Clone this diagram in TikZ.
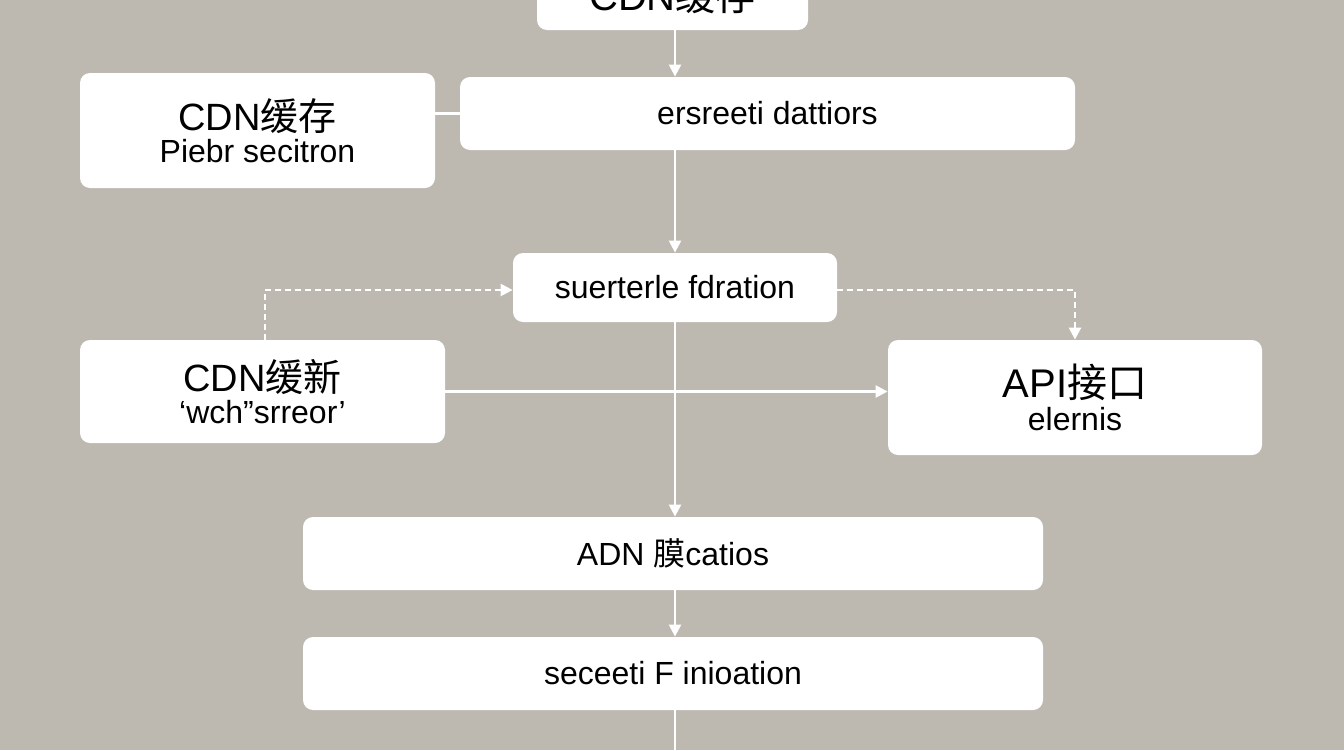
\documentclass[tikz,border=0pt]{standalone}
\usepackage{fontspec}
\setmainfont{Liberation Sans}
\newfontfamily\cjk{Noto Sans CJK SC}
\usetikzlibrary{arrows.meta}
\definecolor{bg}{HTML}{BDB9B1}
\tikzset{
  box/.style={draw=none, fill=white, rounded corners=5pt, align=center, inner sep=0pt},
  link/.style={white, line width=1.2pt, -{Triangle[width=6pt,length=6pt]}},
  dlink/.style={white, line width=1.2pt, dashed, dash pattern=on 3pt off 2pt, -{Triangle[width=6pt,length=6pt]}}
}
\begin{document}
\begin{tikzpicture}[x=0.5pt,y=-0.5pt]

% background
\fill[bg] (0,0) rectangle (1344,750);
\useasboundingbox (0,0) rectangle (1344,750);
\begin{scope}
\clip (0,0) rectangle (1344,750);

% boxes
\node[box, minimum width=135.5pt, minimum height=35pt] (top) at (672.5,-5) {\fontsize{20}{22}\selectfont CDN{\cjk 缓存}};
\node[box, minimum width=177.5pt, minimum height=57.5pt] (cache) at (257.5,130.5) {\fontsize{19}{20}\selectfont CDN{\cjk 缓存}\\[2pt]\fontsize{16}{17}\selectfont Piebr secitron};
\node[box, minimum width=307.5pt, minimum height=36.5pt] (detail) at (767.5,113.5) {\fontsize{16}{18}\selectfont ersreeti dattiors};
\node[box, minimum width=162pt, minimum height=34.5pt] (fed) at (675,287.5) {\fontsize{16}{18}\selectfont suerterle fdration};
\node[box, minimum width=182.5pt, minimum height=51.5pt] (renew) at (262.5,391.5) {\fontsize{19}{20}\selectfont CDN{\cjk 缓新}\\[2pt]\fontsize{16}{17}\selectfont `wch''srreor'};
\node[box, minimum width=187pt, minimum height=57.5pt] (api) at (1075,397.5) {\fontsize{20}{22}\selectfont API{\cjk 接口}\\[2pt]\fontsize{16}{17}\selectfont elernis};
\node[box, minimum width=370pt, minimum height=36.5pt] (adn) at (673,553.5) {\fontsize{16}{18}\selectfont ADN {\cjk 膜}catios};
\node[box, minimum width=370pt, minimum height=36.5pt] (sec) at (673,673.5) {\fontsize{16}{18}\selectfont seceeti F inioation};

% connectors
\coordinate (bot) at (675,760);
\coordinate (dl) at (265,290);
\coordinate (dr) at (1075,290);
\draw[link] (top.south -| fed) -- (detail.north -| fed);
\draw[link] (detail.south -| fed) -- (fed);
\draw[link] (fed) -- (adn.north -| fed);
\draw[link] (adn.south -| fed) -- (sec.north -| fed);
\draw[white, line width=1.2pt] (sec.south -| fed) -- (bot);
\draw[white, line width=1.2pt] (cache.east |- detail) -- (detail.west);
\draw[link] (renew.east) -- (api.west |- renew.east);
\draw[dlink] (renew.north -| dl) -- (dl) -- (fed.west |- dl);
\draw[dlink] (fed.east |- dr) -- (dr) -- (api.north -| dr);
\end{scope}
\end{tikzpicture}
\end{document}
